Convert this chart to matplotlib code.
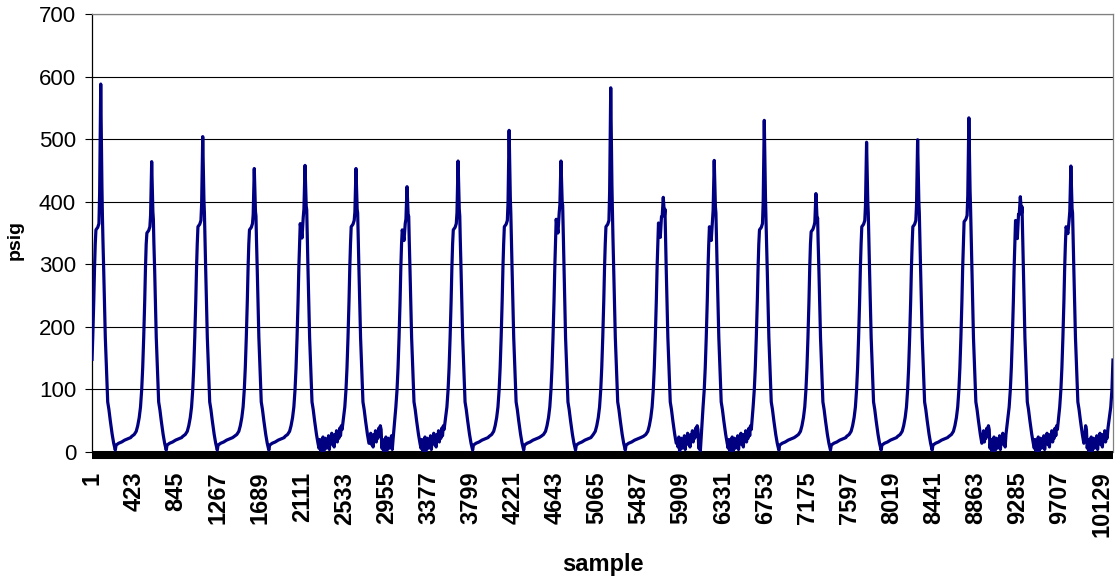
import matplotlib
matplotlib.use("Agg")
import numpy as np
import matplotlib.pyplot as plt

plt.rcParams["font.family"] = ["Liberation Sans", "DejaVu Sans"]

# ---- data -------------------------------------------------------------
N_SAMPLES = 10240
START_PSIG = 148          # reading at sample 1
END_PSIG = 147            # reading at the last sample

# one pressure pulse per cycle: where it peaks and how high
peak_sample = [88, 599, 1111, 1628, 2137, 2648, 3160, 3672, 4184, 4704,
               5203, 5730, 6241, 6743, 7261, 7769, 8281, 8795, 9311, 9818]
peak_psig = [588, 464, 504, 453, 458, 453, 424, 465, 514, 465,
             582, 407, 466, 530, 413, 495, 499, 534, 408, 457]
# plateau reached just before each spike, and the dip inside it
shoulder_psig = [355, 350, 360, 355, 365, 360, 355, 355, 360, 372,
                 360, 366, 360, 355, 352, 360, 360, 368, 370, 360]
dip_psig = [359, 354, 364, 359, 342, 364, 338, 359, 364, 350,
            364, 343, 338, 359, 356, 364, 364, 372, 341, 349]
# cycles whose low-pressure phase is chattery
noisy_trough = [False, False, False, False, True, True, True, False, False, False,
                False, True, True, False, False, False, False, True, True, True]

# common pulse shape (sample offsets relative to the peak)
fall_offset = [30, 46, 60, 70, 82, 96, 115, 130, 146, 154, 180, 210, 240, 270, 300]
fall_psig = [290, 183, 120, 80, 68, 50, 28, 14, 3, 11, 14, 16, 19, 21, 23]
rise_offset = [-200, -175, -155, -140, -125, -112, -100, -90, -80, -70, -62, -55]
rise_psig = [25, 28, 33, 42, 55, 72, 100, 135, 183, 240, 295, 332]
# chattery low phase, one reading every 8 samples from 140 samples after the peak
noise_step = 8
noise_psig = [6, 20, 2, 16, 8, 24, 0, 14, 22, 6, 18, 10, 26, 4, 20,
              14, 30, 12, 24, 8, 28, 18, 34, 16, 30, 22, 38, 26, 42, 36]

x_tick_samples = list(range(1, 10130, 422))
x_tick_labels = [str(v) for v in x_tick_samples]
y_ticks = [0, 100, 200, 300, 400, 500, 600, 700]

# ---- assemble the trace -----------------------------------------------
xs, ys = [1], [START_PSIG]


def add(sample, value):
    if xs[-1] < sample < N_SAMPLES:
        xs.append(sample)
        ys.append(value)


for k, p in enumerate(peak_sample):
    pk, s, d = peak_psig[k], shoulder_psig[k], dip_psig[k]
    prev_noisy = k > 0 and noisy_trough[k - 1]
    for t, v in zip(rise_offset, rise_psig):
        if prev_noisy and t < -120:
            continue
        add(p + t, v)
    spike = [(-48, s), (-30, d), (-18, s + 10),
             (-11, s + 0.25 * (pk - s)), (-5, s + 0.7 * (pk - s)), (0, pk),
             (5, s + 0.7 * (pk - s)), (12, s + 0.3 * (pk - s)),
             (17, s + 22), (22, s - 15)]
    for t, v in spike:
        add(p + t, v)
    if noisy_trough[k]:
        for t, v in zip(fall_offset, fall_psig):
            if t < 140:
                add(p + t, v)
        nz = np.roll(noise_psig, -3 * k) if k % 2 else noise_psig
        for i, v in enumerate(nz):
            add(p + 140 + i * noise_step, int(v))
    else:
        for t, v in zip(fall_offset, fall_psig):
            add(p + t, v)

# rise of the pulse that starts after the last peak
p_next = peak_sample[-1] + 512
for t, v in zip(rise_offset, rise_psig):
    if t < -120:
        continue
    add(p_next + t, v)
xs.append(N_SAMPLES)
ys.append(END_PSIG)

# ---- figure -----------------------------------------------------------
W, H = 1116, 581
fig = plt.figure(figsize=(W / 100, H / 100), dpi=100)
ax = fig.add_axes([92 / W, 1 - 452 / H, (1113 - 92) / W, (452 - 14) / H])

# spines first: repositioning a spine resets its axis ticks
ax.spines["left"].set_color("black")
ax.spines["left"].set_linewidth(0.9)
ax.spines["top"].set_color("#808080")
ax.spines["top"].set_linewidth(0.9)
ax.spines["right"].set_color("#808080")
ax.spines["right"].set_linewidth(0.9)
ax.spines["bottom"].set_position(("outward", 2.2))
ax.spines["bottom"].set_color("black")
ax.spines["bottom"].set_linewidth(5.8)
ax.spines["bottom"].set_capstyle("butt")

ax.plot(xs, ys, color="#000080", lw=2.3, solid_joinstyle="round", zorder=3)

ax.set_xlim(0.5, N_SAMPLES + 0.5)
ax.set_ylim(0, 700)
ax.set_yticks(y_ticks)
ax.set_yticklabels([str(v) for v in y_ticks], fontsize=16)
ax.set_xticks(x_tick_samples)
ax.set_xticklabels(x_tick_labels, rotation=90, fontsize=17, fontweight="bold",
                   va="top", ha="center")

ax.set_axisbelow(True)
ax.yaxis.grid(True, color="black", lw=0.8)
ax.tick_params(axis="y", direction="out", length=5, width=0.8, color="black", pad=6.5)
ax.tick_params(axis="x", length=0, pad=12)

fig.text(15 / W, 1 - 240 / H, "psig", rotation=90, ha="center", va="center",
         fontsize=14, fontweight="bold")
fig.text(603 / W, 1 - 565 / H, "sample", ha="center", va="center",
         fontsize=17, fontweight="bold")

fig.savefig("out.png", dpi=100)
